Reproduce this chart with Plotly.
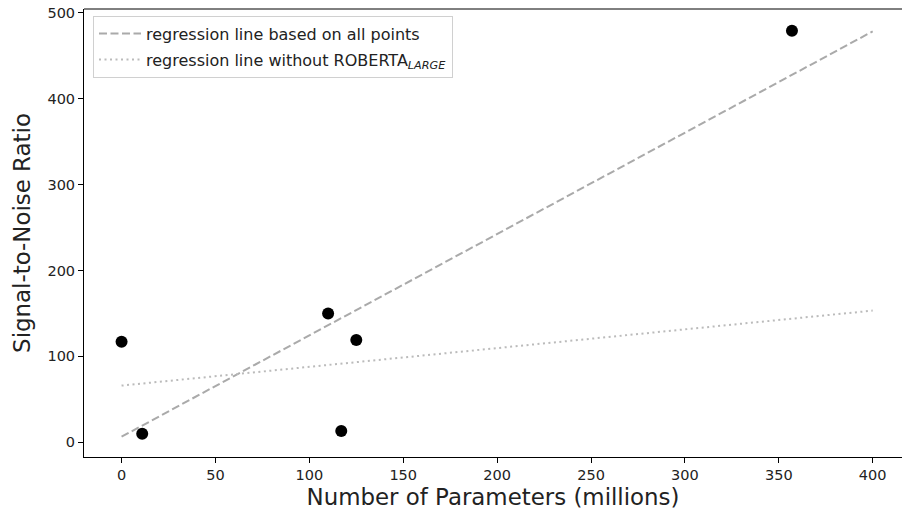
import numpy as np
import plotly.graph_objects as go

# Data
params_millions = [0, 11, 110, 117, 125, 357]
snr = [117, 10, 150, 13, 119, 479]
large_idx = 5  # RoBERTa-large point

line_x = [0, 400]

x_all = np.array(params_millions, dtype=float)
y_all = np.array(snr, dtype=float)
m_all, b_all = np.polyfit(x_all, y_all, 1)
mask = np.arange(len(x_all)) != large_idx
m_wo, b_wo = np.polyfit(x_all[mask], y_all[mask], 1)

lx = np.array(line_x, dtype=float)

FONT = "DejaVu Sans"

fig = go.Figure()
fig.add_trace(go.Scatter(
    x=lx, y=m_all * lx + b_all, mode="lines",
    line=dict(color="#aaaaaa", width=2, dash="8px,3.5px"),
    name="regression line based on all points", legendgroup="a",
))
fig.add_trace(go.Scatter(
    x=lx, y=m_wo * lx + b_wo, mode="lines",
    line=dict(color="#bbbbbb", width=2, dash="2px,3.5px"),
    name="regression line without ROBERTA<sub><i>LARGE</i></sub>", legendgroup="b",
))
fig.add_trace(go.Scatter(
    x=params_millions, y=snr, mode="markers",
    marker=dict(color="black", size=12),
    showlegend=False,
))

fig.update_layout(
    width=902, height=511,
    margin=dict(l=84, r=0, t=9, b=54),
    paper_bgcolor="white", plot_bgcolor="white",
    font=dict(family=FONT, size=14, color="black"),
    showlegend=True,
    legend=dict(
        x=0.011, y=0.985, xanchor="left", yanchor="top",
        bgcolor="white", bordercolor="#d0d0d0", borderwidth=1,
        font=dict(family=FONT, size=16, color="#222222"),
        tracegroupgap=2, itemwidth=42,
    ),
    xaxis=dict(
        range=[-20, 415.6], tickvals=[0, 50, 100, 150, 200, 250, 300, 350, 400],
        showgrid=False, zeroline=False,
        showline=True, linecolor="black", linewidth=1,
        ticks="outside", ticklen=5, tickcolor="black",
        tickfont=dict(family=FONT, size=14.5, color="#222222"),
        title=dict(text="Number of Parameters (millions)",
                   font=dict(family=FONT, size=22.9, color="#222222"), standoff=6),
        automargin=False,
    ),
    yaxis=dict(
        range=[-17.2, 504.4], tickvals=[0, 100, 200, 300, 400, 500],
        showgrid=False, zeroline=False,
        showline=True, linecolor="black", linewidth=1,
        ticks="outside", ticklen=5, tickcolor="black",
        tickfont=dict(family=FONT, size=14.5, color="#222222"),
        title=dict(text="Signal-to-Noise Ratio",
                   font=dict(family=FONT, size=22.9, color="#222222"), standoff=10),
        automargin=False,
    ),
    shapes=[dict(type="line", xref="paper", yref="paper", x0=0, x1=1, y0=1, y1=1,
                 line=dict(color="black", width=1))],
)

fig.write_html("out.html")
